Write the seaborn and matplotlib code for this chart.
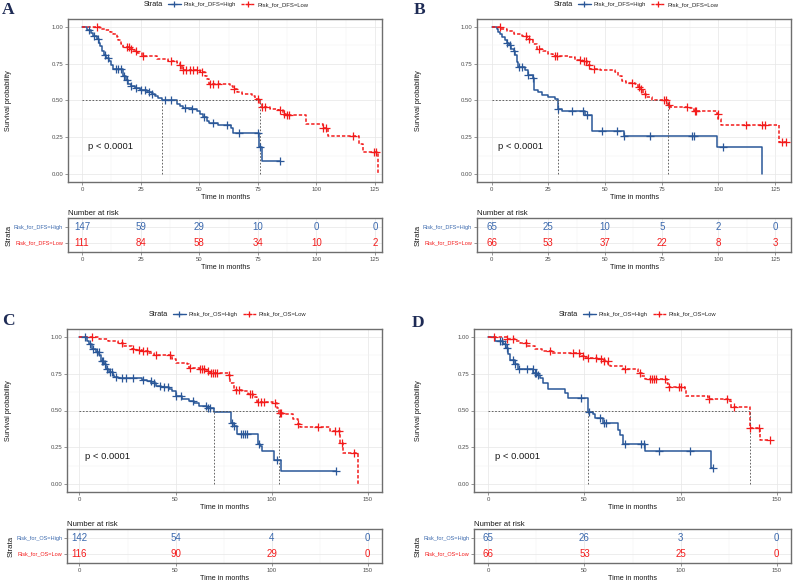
import numpy as np
import matplotlib.pyplot as plt
import seaborn as sns
from matplotlib.lines import Line2D
from matplotlib.ticker import MultipleLocator, FormatStrFormatter

W, H = 793, 581
BLUE = '#2a5798'
BLUE_TXT = '#3a68ad'
RED = '#f31b1b'
GRAY = '#4d4d4d'

# ---- A: DFS, cohort 1 (step times / survival after step / censor times)
a_high_t = [0, 2.3, 3.7, 4.8, 6.3, 7.1, 7.7, 8.5, 9.4, 10.2, 11.4, 12.4, 13.4, 17.3, 18.8, 19.5, 20.8,
            22.6, 24.7, 27.6, 29.7, 31.1, 32.6, 34.1, 40.4, 41.8, 42.9, 46.8, 48.9, 50.3, 51.8, 53.2,
            54.3, 58.2, 63.4, 64.6, 75.6, 76.8, 84.5]
a_high_s = [1.0, 0.98, 0.96, 0.94, 0.92, 0.89, 0.87, 0.84, 0.81, 0.79, 0.77, 0.74, 0.715, 0.67, 0.64,
            0.61, 0.60, 0.585, 0.57, 0.56, 0.545, 0.53, 0.515, 0.50, 0.475, 0.46, 0.45, 0.44, 0.43, 0.41,
            0.385, 0.36, 0.345, 0.33, 0.315, 0.28, 0.18, 0.09, 0.09]
a_high_cens = [3, 5, 7, 10, 11, 14.5, 15.5, 16.5, 18, 19, 21, 23, 25, 27, 28.5, 30, 35.5, 38, 44, 47,
               52, 56, 62, 67, 75, 76, 84.5]
a_low_t = [0, 7.7, 9.8, 11.9, 13.4, 14.8, 15.5, 16.5, 17.6, 20.2, 21.9, 23.3, 25.5, 31.9, 36.8, 40.4,
           41.8, 42.8, 50.3, 52.5, 53.5, 54.3, 63.1, 64.6, 66.0, 68.1, 72.4, 73.8, 75.9, 76.6, 80.2,
           83.8, 85.9, 87.0, 95.6, 102.7, 105.1, 118.3, 119.7, 126.3]
a_low_s = [1.0, 0.99, 0.98, 0.965, 0.955, 0.93, 0.91, 0.886, 0.864, 0.852, 0.84, 0.823, 0.80, 0.784,
           0.768, 0.755, 0.74, 0.705, 0.693, 0.67, 0.645, 0.615, 0.60, 0.58, 0.557, 0.541, 0.53, 0.511,
           0.475, 0.455, 0.443, 0.432, 0.41, 0.398, 0.34, 0.31, 0.255, 0.205, 0.148, 0.0]
a_low_cens = [6.5, 19, 20, 21, 23, 26, 38, 42, 43, 44.5, 46, 47.5, 49, 51, 54.5, 56, 58, 65, 75, 77,
              78, 84.5, 86, 87.5, 88.5, 103, 104, 115.5, 124.5, 125.5]

# ---- B: DFS, cohort 2
b_high_t = [0, 2.2, 2.9, 3.7, 4.4, 5.9, 6.6, 7.4, 8.4, 9.6, 10.3, 11.0, 11.8, 14.7, 16.2, 18.1, 18.7,
            20.6, 22.0, 25.0, 27.9, 29.3, 30.9, 41.2, 44.1, 58.4, 99.3, 119.0]
b_high_s = [1.0, 0.99, 0.966, 0.95, 0.93, 0.91, 0.89, 0.875, 0.85, 0.84, 0.807, 0.76, 0.727, 0.705,
            0.677, 0.655, 0.573, 0.557, 0.54, 0.523, 0.511, 0.443, 0.427, 0.398, 0.295, 0.261, 0.182, 0.0]
b_high_cens = [6.6, 8.1, 9.6, 12.2, 13.2, 16.2, 18.1, 29.4, 35.3, 40.1, 42.2, 48.5, 55.4, 58.4, 69.6,
               88.2, 89.2, 101.9]
b_low_t = [0, 3.7, 6.6, 9.6, 13.2, 15.4, 16.9, 18.4, 19.9, 22.8, 25.0, 27.2, 33.8, 36.8, 39.7, 41.9,
           43.4, 47.8, 54.4, 55.9, 57.4, 59.3, 63.2, 64.7, 65.7, 66.9, 68.1, 70.6, 77.9, 78.5, 87.5,
           89.0, 99.3, 100.0, 101.0, 126.5, 130.0]
b_low_s = [1.0, 0.99, 0.973, 0.955, 0.936, 0.92, 0.91, 0.886, 0.852, 0.836, 0.818, 0.80, 0.795, 0.777,
           0.766, 0.739, 0.716, 0.705, 0.693, 0.664, 0.636, 0.618, 0.614, 0.591, 0.58, 0.545, 0.523,
           0.503, 0.47, 0.455, 0.448, 0.427, 0.409, 0.375, 0.336, 0.216, 0.216]
b_low_cens = [3.5, 15, 16.5, 21, 28, 29, 39, 40.5, 41.5, 43, 45, 62, 65, 66, 67.5, 76, 77, 78.2, 86,
              89.5, 90.2, 99.6, 112, 119, 120.5, 128, 129.8]

# ---- C: OS, cohort 1
c_high_t = [0, 4.0, 5.2, 6.4, 8.6, 10.3, 11.2, 12.9, 13.8, 15.5, 17.2, 18.1, 19.8, 32.8, 35.3, 37.1,
            39.7, 42.2, 46.6, 48.3, 50.0, 53.4, 56.9, 59.5, 62.1, 66.4, 69.8, 78.8, 80.2, 81.9, 93.1,
            94.0, 94.8, 101.2, 104.3, 104.8, 133.6]
c_high_s = [1.0, 0.973, 0.95, 0.916, 0.898, 0.875, 0.836, 0.814, 0.78, 0.761, 0.739, 0.73, 0.723,
            0.707, 0.70, 0.684, 0.67, 0.661, 0.648, 0.632, 0.602, 0.58, 0.564, 0.548, 0.53, 0.518,
            0.489, 0.416, 0.393, 0.343, 0.275, 0.257, 0.223, 0.166, 0.161, 0.086, 0.086]
c_high_cens = [3, 5.5, 7, 9, 10, 11.5, 12.5, 13.5, 14.5, 16, 17, 19, 22, 24, 28, 33, 37, 39, 42, 44,
               46, 50, 53, 59, 66, 67, 68, 79.5, 80.5, 84, 85, 86, 87, 93.5, 103, 133.6]
c_low_t = [0, 10.3, 14.7, 19.8, 22.9, 27.6, 29.3, 32.8, 36.2, 38.8, 48.3, 50.0, 56.0, 56.9, 62.9, 65.5,
           68.1, 77.6, 78.4, 80.2, 84.5, 87.9, 90.5, 92.2, 100.9, 102.6, 104.0, 106.0, 111.2, 113.8,
           114.7, 130.2, 135.7, 137.4, 144.8]
c_low_s = [1.0, 0.989, 0.973, 0.957, 0.939, 0.92, 0.911, 0.905, 0.893, 0.875, 0.848, 0.825, 0.814,
           0.791, 0.784, 0.768, 0.757, 0.745, 0.689, 0.643, 0.632, 0.609, 0.593, 0.557, 0.552, 0.518,
           0.48, 0.473, 0.443, 0.405, 0.389, 0.359, 0.28, 0.211, 0.0]
c_low_cens = [6.5, 22, 28, 31, 33, 35, 40, 47, 57.5, 63, 64, 65, 67, 68.5, 69.5, 70.5, 71.5, 78, 81.5,
              83, 89, 90, 93, 94.5, 96, 102, 104.5, 105, 114, 124, 133, 135, 136.5, 143]

# ---- D: OS, cohort 2
d_high_t = [0, 3.5, 7.8, 9.2, 10.4, 11.3, 13.9, 15.6, 23.4, 25.1, 26.9, 28.6, 31.2, 39.9, 41.6, 52.0,
            54.6, 55.5, 59.8, 67.6, 68.5, 70.2, 81.5, 115.6, 117.0]
d_high_s = [1.0, 0.973, 0.95, 0.927, 0.882, 0.841, 0.82, 0.784, 0.757, 0.739, 0.723, 0.689, 0.648,
            0.62, 0.586, 0.489, 0.473, 0.45, 0.416, 0.37, 0.33, 0.275, 0.223, 0.109, 0.109]
d_high_cens = [6, 7, 8.5, 9.5, 13, 14, 16, 20, 23, 24, 25, 26, 48, 52.5, 58, 60, 61, 71, 79.5, 81, 89,
               105, 117]
d_low_t = [0, 9.5, 13.9, 16.5, 19.9, 24.3, 27.7, 32.9, 47.7, 50.3, 56.3, 59.8, 62.4, 63.3, 70.2, 78.0,
           79.7, 81.5, 92.7, 93.6, 102.3, 103.1, 114.4, 124.8, 126.5, 136.0, 141.6, 146.4]
d_low_s = [1.0, 0.989, 0.973, 0.961, 0.939, 0.92, 0.905, 0.889, 0.87, 0.859, 0.848, 0.836, 0.82, 0.802,
           0.784, 0.757, 0.734, 0.716, 0.689, 0.661, 0.643, 0.602, 0.575, 0.564, 0.525, 0.382, 0.302,
           0.302]
d_low_cens = [3, 9.5, 13, 19.5, 32, 44, 47, 49, 52, 56, 58.5, 60, 62, 71, 79, 84, 85, 86, 87, 92, 94,
              99, 100, 115, 124, 128, 136, 141, 146.4]

# ---- number at risk
dfs_times = [0, 25, 50, 75, 100, 125]
os_times = [0, 50, 100, 150]
a_risk_high = [147, 59, 29, 10, 0, 0]
a_risk_low = [111, 84, 58, 34, 10, 2]
b_risk_high = [65, 25, 10, 5, 2, 0]
b_risk_low = [66, 53, 37, 22, 8, 3]
c_risk_high = [142, 54, 4, 0]
c_risk_low = [116, 90, 29, 0]
d_risk_high = [65, 26, 3, 0]
d_risk_low = [66, 53, 25, 0]

dfs_labels = ['Risk_for_DFS=High', 'Risk_for_DFS=Low']
os_labels = ['Risk_for_OS=High', 'Risk_for_OS=Low']

RED_DASH = (0, (2.2, 1.3))

sns.set_theme(style='whitegrid')
plt.rcParams['font.family'] = ['Liberation Sans', 'DejaVu Sans']


def step_at(t, s, x):
    idx = np.searchsorted(t, x, side='right') - 1
    return np.asarray(s)[idx]


def median_time(t, s):
    s = np.asarray(s)
    return np.asarray(t)[np.argmax(s <= 0.5)]


def px_axes(fig, box):
    x0, y0, x1, y1 = box
    return fig.add_axes([x0 / W, 1 - y1 / H, (x1 - x0) / W, (y1 - y0) / H])


def style_axes(ax, xlim, xstep):
    ax.set_xlim(*xlim)
    ax.xaxis.set_major_locator(MultipleLocator(xstep))
    ax.xaxis.set_minor_locator(MultipleLocator(xstep / 2))
    ax.grid(which='major', color='#e6e6e6', lw=0.5)
    ax.grid(which='minor', color='#f2f2f2', lw=0.35)
    for sp in ax.spines.values():
        sp.set_visible(True)
        sp.set_color('#6e6e6e')
        sp.set_linewidth(1.0)
    ax.tick_params(which='major', bottom=True, left=True, length=2, width=0.4, color='#444444',
                   labelsize=4.3, labelcolor=GRAY, pad=1.5)
    ax.tick_params(which='minor', length=0)
    ax.set_axisbelow(True)


def km_panel(ax, high, low, xlim, xstep, px):
    style_axes(ax, xlim, xstep)
    for t, s, cens, col, ls in [(*high, BLUE, '-'), (*low, RED, RED_DASH)]:
        sns.lineplot(x=t, y=s, ax=ax, color=col, lw=1.1, linestyle=ls, drawstyle='steps-post',
                     estimator=None, sort=False)
        sns.scatterplot(x=cens, y=step_at(t, s, cens), ax=ax, marker='+', s=26, color=col,
                        linewidth=0.9, zorder=3)
    meds = [median_time(high[0], high[1]), median_time(low[0], low[1])]
    ax.plot([0, max(meds)], [0.5, 0.5], color=GRAY, ls=(0, (2, 2)), lw=0.6)
    for m in meds:
        ax.plot([m, m], [0, 0.5], color=GRAY, ls=(0, (2, 2)), lw=0.6)
    ax.set_ylim(-0.055, 1.055)
    ax.yaxis.set_major_locator(MultipleLocator(0.25))
    ax.yaxis.set_minor_locator(MultipleLocator(0.125))
    ax.yaxis.set_major_formatter(FormatStrFormatter('%.2f'))
    ax.text(px, 0.19, 'p < 0.0001', fontsize=6.8, va='center', ha='left', color='#1a1a1a')
    ax.set_xlabel('Time in months', fontsize=5.2, labelpad=1.5, color='#1a1a1a')
    ax.set_ylabel('')


def risk_table(ax, times, n_high, n_low, labels, xlim, xstep):
    style_axes(ax, xlim, xstep)
    ax.set_ylim(0.4, 2.6)
    ax.set_yticks([2, 1], labels)
    ax.tick_params(axis='y', labelsize=4.0)
    for tl, col in zip(ax.get_yticklabels(), [BLUE_TXT, RED]):
        tl.set_color(col)
    for t, nh, nl in zip(times, n_high, n_low):
        ax.text(t, 2, str(nh), color=BLUE_TXT, fontsize=7, ha='center', va='center')
        ax.text(t, 1, str(nl), color=RED, fontsize=7, ha='center', va='center')
    ax.set_title('Number at risk', loc='left', fontsize=5.6, pad=2.5, color='#1a1a1a')
    ax.set_xlabel('Time in months', fontsize=5.2, labelpad=1.5, color='#1a1a1a')
    ax.set_ylabel('Strata', fontsize=5.6, labelpad=1, color='#1a1a1a')


fig = plt.figure(figsize=(W / 100, H / 100), dpi=100)

panels = [
    ('A', (a_high_t, a_high_s, a_high_cens), (a_low_t, a_low_s, a_low_cens), dfs_times, a_risk_high,
     a_risk_low, dfs_labels, (68, 19, 382, 182), (68, 218, 382, 252), (-6.0, 128.0), 25, 2.4,
     (8, 10.5), 8.5, (144, 4.5)),
    ('B', (b_high_t, b_high_s, b_high_cens), (b_low_t, b_low_s, b_low_cens), dfs_times, b_risk_high,
     b_risk_low, dfs_labels, (477, 19, 791, 182), (477, 218, 791, 252), (-6.5, 132.0), 25, 2.6,
     (420, 10.5), 418, (554, 4.5)),
    ('C', (c_high_t, c_high_s, c_high_cens), (c_low_t, c_low_s, c_low_cens), os_times, c_risk_high,
     c_risk_low, os_labels, (67, 329, 382, 492), (67, 529, 382, 563), (-6.5, 157.5), 50, 3.0,
     (8.5, 321), 8.5, (149, 314)),
    ('D', (d_high_t, d_high_s, d_high_cens), (d_low_t, d_low_s, d_low_cens), os_times, d_risk_high,
     d_risk_low, os_labels, (474, 329, 791, 492), (474, 529, 791, 563), (-7.5, 157.5), 50, 3.5,
     (418.5, 323), 418, (559, 314)),
]

for (letter, high, low, rt, rh, rl, labels, mbox, tbox, xlim, xstep, pvx,
     lpos, ylab_x, leg) in panels:
    ax = px_axes(fig, mbox)
    km_panel(ax, high, low, xlim, xstep, pvx)
    tax = px_axes(fig, tbox)
    risk_table(tax, rt, rh, rl, labels, xlim, xstep)

    fig.text(lpos[0] / W, 1 - lpos[1] / H, letter, fontsize=12.5, fontweight='bold',
             family=['Liberation Serif', 'DejaVu Serif'], color='#1e2b55', ha='center', va='center')
    fig.text(ylab_x / W, 1 - (mbox[1] + mbox[3]) / 2 / H, 'Survival probability', fontsize=5.2,
             rotation=90, ha='center', va='center', color='#1a1a1a')
    fig.text(leg[0] / W, 1 - leg[1] / H, 'Strata', fontsize=5.2, ha='left', va='center', color='#1a1a1a')
    handles = [Line2D([], [], color=BLUE, lw=1.0, marker='+', markersize=4.5, markeredgewidth=0.9),
               Line2D([], [], color=RED, lw=1.0, ls=RED_DASH, marker='+', markersize=4.5,
                      markeredgewidth=0.9)]
    fig.legend(handles, labels, loc='center left', bbox_to_anchor=((leg[0] + 24) / W, 1 - leg[1] / H),
               ncol=2, frameon=False, fontsize=4.2, handlelength=2.2, handletextpad=0.5,
               columnspacing=0.9, borderpad=0, borderaxespad=0)

fig.savefig('out.png', dpi=100, facecolor='white')
